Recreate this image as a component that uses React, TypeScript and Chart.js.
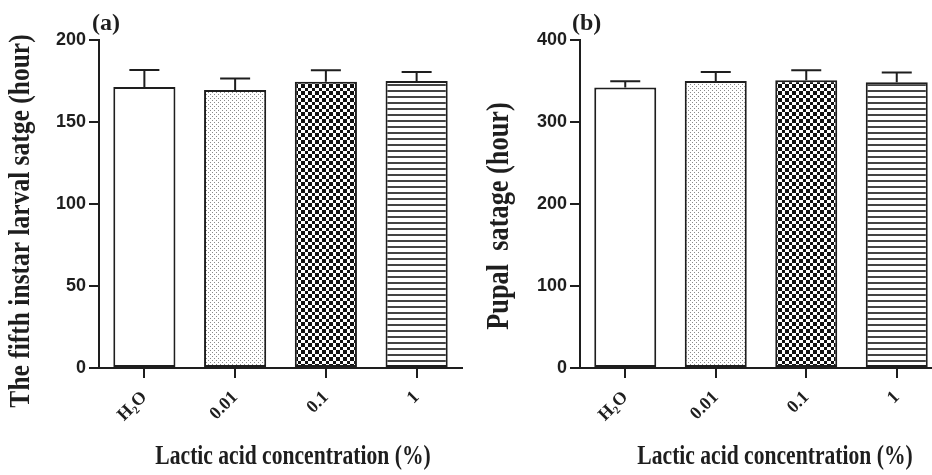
import React, { useEffect, useRef } from "react";
import { Chart, registerables } from "chart.js";

Chart.register(...registerables);

// ---- data ----
const categories = ["H₂O", "0.01", "0.1", "1"];
const larvalMeans = [171.3, 169.5, 174.6, 175];
const larvalErrors = [10.4, 7, 7, 5.5];
const pupalMeans = [342, 350, 351, 348.5];
const pupalErrors = [7.7, 11, 12, 12];
const larvalTickStep = 50;
const larvalMax = 200;
const pupalTickStep = 100;
const pupalMax = 400;
const patternKinds = ["white", "dots", "checker", "stripes"];

const INK = "#1e1e1e";

function makePattern(kind: string): CanvasPattern | string {
  const c = document.createElement("canvas");
  const ctx = c.getContext("2d")!;
  if (kind === "white") return "#ffffff";
  if (kind === "dots") {
    c.width = 4;
    c.height = 4;
    ctx.fillStyle = "#ffffff";
    ctx.fillRect(0, 0, 4, 4);
    ctx.fillStyle = "#8a8a8a";
    ctx.fillRect(0, 0, 1, 1);
    ctx.fillRect(2, 2, 1, 1);
  } else if (kind === "checker") {
    c.width = 7;
    c.height = 7;
    ctx.fillStyle = "#ffffff";
    ctx.fillRect(0, 0, 7, 7);
    ctx.fillStyle = "#111111";
    ctx.fillRect(0, 0, 4, 4);
    ctx.fillRect(4, 4, 3, 3);
  } else {
    c.width = 6;
    c.height = 6;
    ctx.fillStyle = "#ffffff";
    ctx.fillRect(0, 0, 6, 6);
    ctx.fillStyle = "#444444";
    ctx.fillRect(0, 0, 6, 2);
  }
  return ctx.createPattern(c, "repeat")!;
}

type PanelCfg = {
  means: number[];
  errors: number[];
  max: number;
  step: number;
  axisLeft: number;
  rightPad: number;
  panelLabel: string;
  panelLabelX: number;
  yTitle: string;
  yTitleX: number;
  yTitleY: number;
  yTitleSize: number;
  xTitleX: number;
};

function buildChart(canvas: HTMLCanvasElement, p: PanelCfg) {
  const errorBars = {
    id: "errorBars",
    afterDatasetsDraw(chart: any) {
      const ctx = chart.ctx;
      const meta = chart.getDatasetMeta(0);
      const ys = chart.scales.y;
      ctx.save();
      ctx.strokeStyle = INK;
      ctx.lineWidth = 2;
      meta.data.forEach((bar: any, i: number) => {
        const top = ys.getPixelForValue(p.means[i] + p.errors[i]);
        const base = ys.getPixelForValue(p.means[i]);
        ctx.beginPath();
        ctx.moveTo(bar.x, base);
        ctx.lineTo(bar.x, top);
        ctx.moveTo(bar.x - 15, top);
        ctx.lineTo(bar.x + 15, top);
        ctx.stroke();
      });
      ctx.restore();
    },
  };
  const titles = {
    id: "titles",
    afterDraw(chart: any) {
      const ctx = chart.ctx;
      ctx.save();
      ctx.fillStyle = INK;
      ctx.font = "bold 24px 'Liberation Serif'";
      ctx.textAlign = "left";
      ctx.textBaseline = "alphabetic";
      ctx.fillText(p.panelLabel, p.panelLabelX, 30);
      // x title, condensed
      ctx.save();
      ctx.translate(p.xTitleX, 464);
      ctx.scale(0.8, 1);
      ctx.font = "bold 27px 'Liberation Serif'";
      ctx.textAlign = "center";
      ctx.fillText("Lactic acid concentration (%)", 0, 0);
      ctx.restore();
      // y title, condensed
      ctx.save();
      ctx.translate(p.yTitleX, p.yTitleY);
      ctx.rotate(-Math.PI / 2);
      ctx.scale(0.85, 1);
      ctx.font = `bold ${p.yTitleSize}px 'Liberation Serif'`;
      ctx.textAlign = "center";
      ctx.textBaseline = "middle";
      ctx.fillText(p.yTitle, 0, 0);
      ctx.restore();
      ctx.restore();
    },
  };

  return new Chart(canvas, {
    type: "bar",
    data: {
      labels: categories,
      datasets: [
        {
          data: p.means,
          backgroundColor: patternKinds.map(makePattern) as any,
          borderColor: INK,
          borderWidth: 2,
          borderSkipped: false,
          barPercentage: 0.685,
          categoryPercentage: 1,
        },
      ],
    },
    options: {
      responsive: false,
      animation: false,
      layout: { padding: { top: 40, right: p.rightPad, left: 0, bottom: 0 } },
      plugins: { legend: { display: false }, tooltip: { enabled: false } },
      scales: {
        x: {
          offset: true,
          grid: {
            offset: false,
            drawOnChartArea: false,
            drawTicks: true,
            tickLength: 10,
            color: INK,
            lineWidth: 2,
          },
          border: { display: true, color: INK, width: 2 },
          ticks: {
            minRotation: 45,
            maxRotation: 45,
            padding: 9,
            color: INK,
            font: { family: "'Liberation Serif'", weight: "bold", size: 18 },
          },
          afterFit: (s: any) => {
            s.height = 107;
          },
        },
        y: {
          min: 0,
          max: p.max,
          grid: {
            drawOnChartArea: false,
            drawTicks: true,
            tickLength: 10,
            color: INK,
            lineWidth: 2,
          },
          border: { display: true, color: INK, width: 2 },
          ticks: {
            stepSize: p.step,
            padding: 3,
            color: INK,
            font: { family: "'Liberation Sans'", weight: "bold", size: 18 },
          },
          afterFit: (s: any) => {
            s.width = p.axisLeft;
          },
        },
      },
    },
    plugins: [errorBars, titles],
  });
}

export default function App() {
  const refA = useRef<HTMLCanvasElement>(null);
  const refB = useRef<HTMLCanvasElement>(null);
  useEffect(() => {
    const a = buildChart(refA.current!, {
      means: larvalMeans,
      errors: larvalErrors,
      max: larvalMax,
      step: larvalTickStep,
      axisLeft: 99,
      rightPad: 8,
      panelLabel: "(a)",
      panelLabelX: 92,
      yTitle: "The fifth instar larval satge (hour)",
      yTitleX: 21,
      yTitleY: 221,
      yTitleSize: 30,
      xTitleX: 293,
    });
    const b = buildChart(refB.current!, {
      means: pupalMeans,
      errors: pupalErrors,
      max: pupalMax,
      step: pupalTickStep,
      axisLeft: 110,
      rightPad: 8,
      panelLabel: "(b)",
      panelLabelX: 102,
      yTitle: "Pupal  satage (hour)",
      yTitleX: 30,
      yTitleY: 216,
      yTitleSize: 31,
      xTitleX: 305,
    });
    return () => {
      a.destroy();
      b.destroy();
    };
  }, []);
  return (
    <div
      style={{
        position: "fixed",
        left: 0,
        top: 0,
        width: 932,
        height: 475,
        overflow: "hidden",
        background: "#ffffff",
      }}
    >
      <canvas
        ref={refA}
        width={470}
        height={475}
        style={{ position: "absolute", left: 0, top: 0, width: 470, height: 475 }}
      />
      <canvas
        ref={refB}
        width={480}
        height={475}
        style={{ position: "absolute", left: 470, top: 0, width: 480, height: 475 }}
      />
    </div>
  );
}
